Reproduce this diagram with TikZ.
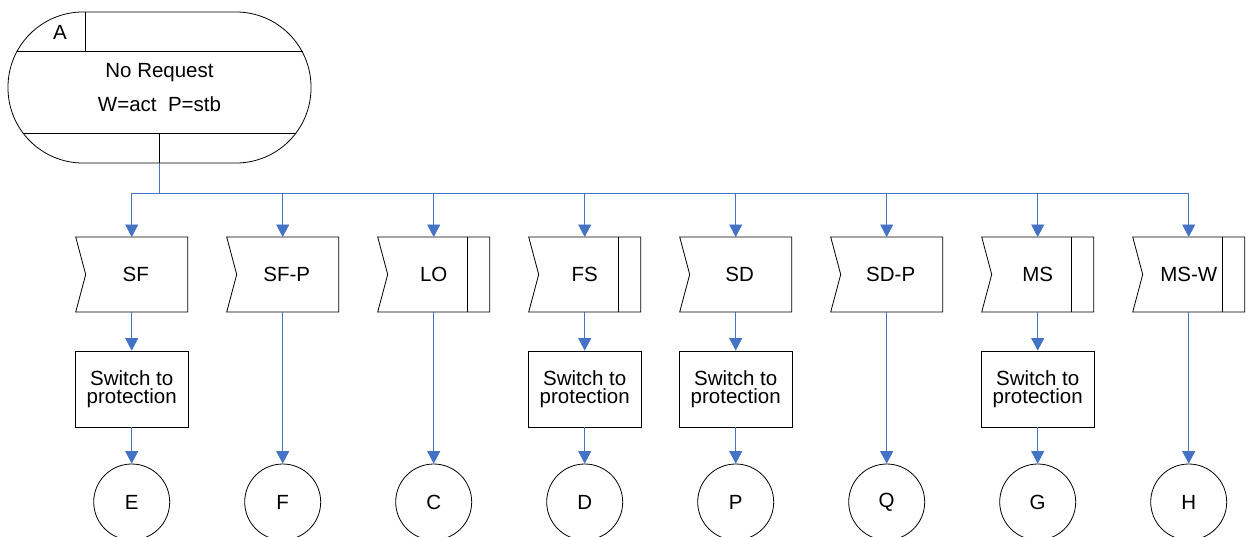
\documentclass[tikz,border=0pt]{standalone}
\usepackage{fontspec}
\setmainfont{Liberation Sans}
\usetikzlibrary{arrows.meta,calc}
\definecolor{conn}{HTML}{4472C4}
\begin{document}
\begin{tikzpicture}[x=1pt,y=-1pt,
  font=\fontsize{20.5}{18.5}\selectfont,
  outline/.style={draw=black,line width=0.8pt},
  sigbox/.style={minimum width=112pt,minimum height=75pt,inner sep=0pt,outer sep=0pt},
  procbox/.style={draw=black,line width=0.8pt,minimum width=113pt,minimum height=76pt,inner sep=0pt,align=center},
  endc/.style={draw=black,line width=0.8pt,circle,minimum size=76pt,inner sep=0pt},
  cline/.style={draw=conn,line width=0.8pt},
  arr/.style={draw=conn,line width=0.8pt,-{Triangle[width=13pt,length=12.5pt,fill=conn]}}
]
\useasboundingbox (0,0) rectangle (1249,536);

% state node
\node[draw=black,line width=0.8pt,rounded corners=75pt,minimum width=303pt,minimum height=151pt,
      inner sep=0pt,align=center,font=\fontsize{20.5}{34}\selectfont] (a) at (159.5,87.5)
      {No Request\\W=act\ \ P=stb};
\draw[outline] ($(a.north west)+(8.9,40)$) -- ($(a.north east)+(-8.9,40)$);
\draw[outline] ($(a.north west)+(78,0)$) -- ($(a.north west)+(78,40)$);
\draw[outline] ($(a.south west)+(15.3,-30)$) -- ($(a.south east)+(-15.3,-30)$);
\draw[outline] (a.south) -- ($(a.south)+(0,-30)$);
\node (lblA) at (60,32) {A};

\coordinate (bus) at (159.5,193);
\draw[cline] (a.south) -- (bus);

% signal boxes
\foreach \i/\n/\t/\d in {0/sf/SF/0,1/sfp/SF-P/0,2/lo/LO/1,3/fs/FS/1,4/sd/SD/0,5/sdp/SD-P/0,6/ms/MS/1,7/msw/MS-W/1} {
  \pgfmathsetmacro\cx{131.7+151*\i}
  \node[sigbox] (\n) at (\cx,274.5) {\ifnum\d=0 \hspace*{8pt}\fi\t};
  \draw[outline] (\n.north west) -- (\n.north east) -- (\n.south east) -- (\n.south west)
     -- ($(\n.west)+(10,0)$) -- cycle;
  \ifnum\d=1
    \draw[outline] ($(\n.north east)+(-22,0)$) -- ($(\n.south east)+(-22,0)$);
  \fi
  \draw[arr] (bus) -| (\n.north);
}

% lower parts
\foreach \i/\n/\o/\p in {0/sf/E/1,1/sfp/F/0,2/lo/C/0,3/fs/D/1,4/sd/P/1,5/sdp/Q/0,6/ms/G/1,7/msw/H/0} {
  \pgfmathsetmacro\cx{131.7+151*\i}
  \node[endc] (c\i) at (\cx,502) {\o};
  \ifnum\p=1
    \node[procbox] (p\i) at (\cx,389) {Switch to\\protection};
    \draw[arr] (\n.south) -- (p\i.north);
    \draw[arr] (p\i.south) -- (c\i.north);
  \else
    \draw[arr] (\n.south) -- (c\i.north);
  \fi
}
\end{tikzpicture}
\end{document}
